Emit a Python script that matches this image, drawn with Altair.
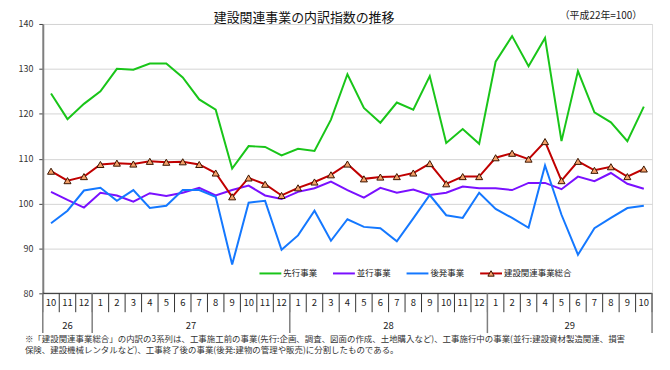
import altair as alt
import pandas as pd

# ---- data ----
months = [10, 11, 12, 1, 2, 3, 4, 5, 6, 7, 8, 9, 10, 11, 12,
          1, 2, 3, 4, 5, 6, 7, 8, 9, 10, 11, 12, 1, 2, 3, 4, 5, 6, 7, 8, 9, 10]
years = ["26", "27", "28", "29"]
year_counts = [3, 12, 12, 10]

series_names = ["先行事業", "並行事業", "後発事業", "建設関連事業総合"]

senko = [124.5, 118.8, 122.2, 125.0, 130.0, 129.8, 131.2, 131.2, 128.1, 123.2, 120.9, 107.8,
         112.8, 112.6, 110.7, 112.2, 111.7, 118.7, 128.8, 121.3, 118.0, 122.5, 120.9, 128.4,
         113.5, 116.6, 113.3, 131.6, 137.3, 130.6, 136.9, 113.9, 129.5, 120.3, 118.1, 113.9, 121.6]
heiko = [102.6, 100.8, 99.1, 102.4, 101.8, 100.4, 102.3, 101.7, 102.4, 103.5, 101.8, 103.0,
         104.0, 101.8, 101.0, 102.6, 103.4, 104.9, 103.0, 101.3, 103.5, 102.4, 103.1, 101.9,
         102.4, 103.8, 103.4, 103.4, 103.0, 104.6, 104.6, 103.2, 106.0, 105.0, 106.8, 104.4, 103.3]
kohatsu = [95.6, 98.4, 102.9, 103.5, 100.6, 103.0, 99.0, 99.5, 103.0, 103.0, 101.5, 86.4,
           100.2, 100.6, 89.7, 92.9, 98.4, 91.7, 96.5, 94.8, 94.5, 91.6, 96.7, 101.9,
           97.4, 96.8, 102.4, 98.8, 96.8, 94.6, 108.5, 97.5, 88.6, 94.5, 96.8, 99.0, 99.5]
sogo = [107.2, 105.1, 106.0, 108.7, 109.0, 108.8, 109.4, 109.2, 109.3, 108.7, 106.8, 101.5,
        105.7, 104.3, 101.8, 103.5, 104.8, 106.4, 108.8, 105.5, 105.9, 106.0, 106.8, 108.9,
        104.4, 106.0, 106.0, 110.2, 111.2, 109.9, 113.8, 105.1, 109.4, 107.4, 108.2, 106.0, 107.7]

title_text = "建設関連事業の内訳指数の推移"
unit_text = "（平成22年=100）"
note_lines = [
    "※「建設関連事業総合」の内訳の3系列は、工事施工前の事業(先行:企画、調査、図面の作成、土地購入など)、工事施行中の事業(並行:建設資材製造関連、損害",
    "保険、建設機械レンタルなど)、工事終了後の事業(後発:建物の管理や販売)に分割したものである。",
]

# ---- styling ----
FONT = "Noto Sans CJK JP"
colors = ["#19c519", "#7a10ff", "#1478ff", "#c00000"]
W, H = 613, 271
N = len(months)

# ---- tables ----
rows = []
for name, vals in zip(series_names, [senko, heiko, kohatsu, sogo]):
    for i, v in enumerate(vals):
        rows.append({"i": i, "series": name, "value": v})
df = pd.DataFrame(rows)

df_m = pd.DataFrame({"i": list(range(N)), "m": [str(m) for m in months]})
df_b = pd.DataFrame({"b": [k - 0.5 for k in range(N + 1)]})
ybounds = [-0.5]
ycent = []
s = 0
for c in year_counts:
    ycent.append(s + (c - 1) / 2)
    s += c
    ybounds.append(s - 0.5)
df_yb = pd.DataFrame({"b": ybounds})
df_yl = pd.DataFrame({"i": ycent, "y": years})
df_base = pd.DataFrame({"x0": [-0.5], "x1": [N - 0.5], "v": [80]})


def px2x(px):
    return px * N / W - 0.5


leg = []
cur = 218
for k, name in enumerate(series_names):
    leg.append({"series": name, "x0": px2x(cur), "x1": px2x(cur + 22),
                "xm": px2x(cur + 11), "xt": px2x(cur + 24)})
    cur += 22 + 3 + 8.5 * len(name) + 15
df_leg = pd.DataFrame(leg)

df_title = pd.DataFrame({"t": [title_text]})
df_unit = pd.DataFrame({"t": [unit_text]})
df_note = pd.DataFrame({"t": ["\n".join(note_lines)]})

xscale = alt.Scale(domain=[-0.5, N - 0.5], nice=False, zero=False)
yscale = alt.Scale(domain=[80, 140], nice=False, zero=False)
cscale = alt.Scale(domain=series_names, range=colors)

base = alt.Chart(df)

lines = base.mark_line(strokeWidth=2).encode(
    x=alt.X("i:Q", scale=xscale, axis=None),
    y=alt.Y("value:Q", scale=yscale, axis=alt.Axis(
        values=list(range(80, 141, 10)), grid=True, gridColor="#d4d4d4", gridWidth=1,
        domainColor="#7f7f7f", domainWidth=2, tickColor="#404040", tickSize=4,
        labelFontSize=9, labelColor="#333333", labelFont=FONT, labelPadding=6, title=None)),
    color=alt.Color("series:N", scale=cscale, legend=None),
)

points = base.transform_filter(alt.datum.series == series_names[3]).mark_point(
    shape="triangle-up", filled=True, size=50, fill="#f4a06a", stroke="#3a1500",
    strokeWidth=1, opacity=1).encode(
    x=alt.X("i:Q", scale=xscale, axis=None),
    y=alt.Y("value:Q", scale=yscale),
)

baseline = alt.Chart(df_base).mark_rule(color="#222222", strokeWidth=1).encode(
    x=alt.X("x0:Q", scale=xscale, axis=None), x2="x1:Q",
    y=alt.Y("v:Q", scale=yscale))

msep = alt.Chart(df_b).mark_rule(color="#333333", strokeWidth=1).encode(
    x=alt.X("b:Q", scale=xscale, axis=None), y=alt.value(H), y2=alt.value(H + 19))
ysep = alt.Chart(df_yb).mark_rule(color="#7f7f7f", strokeWidth=1.5).encode(
    x=alt.X("b:Q", scale=xscale, axis=None), y=alt.value(H), y2=alt.value(H + 40))

mlab = alt.Chart(df_m).mark_text(fontSize=9.5, font=FONT, baseline="middle", color="#222222").encode(
    x=alt.X("i:Q", scale=xscale, axis=None), y=alt.value(H + 10), text="m:N")
ylab = alt.Chart(df_yl).mark_text(fontSize=9.5, font=FONT, baseline="middle", color="#222222").encode(
    x=alt.X("i:Q", scale=xscale, axis=None), y=alt.value(H + 33), text="y:N")

leg_line = alt.Chart(df_leg).mark_rule(strokeWidth=2).encode(
    x=alt.X("x0:Q", scale=xscale, axis=None), x2="x1:Q", y=alt.value(251),
    color=alt.Color("series:N", scale=cscale, legend=None))
leg_pt = alt.Chart(df_leg).transform_filter(alt.datum.series == series_names[3]).mark_point(
    shape="triangle-up", filled=True, size=40, fill="#f4a06a", stroke="#3a1500",
    strokeWidth=1, opacity=1).encode(
    x=alt.X("xm:Q", scale=xscale, axis=None), y=alt.value(251))
leg_txt = alt.Chart(df_leg).mark_text(align="left", baseline="middle", fontSize=8.5, font=FONT,
                                      color="#222222").encode(
    x=alt.X("xt:Q", scale=xscale, axis=None), y=alt.value(251), text="series:N")


def label(d, x, y, size, color):
    return alt.Chart(d).mark_text(align="left", baseline="middle", fontSize=size, font=FONT,
                                  color=color).encode(x=alt.value(x), y=alt.value(y), text="t:N")


title = label(df_title, 172, -6, 13, "#111111")
unit = label(df_unit, 520, -8, 10, "#222222")
note = alt.Chart(df_note).mark_text(align="left", baseline="top", fontSize=8.5, font=FONT,
                                    color="#333333", lineBreak="\n", lineHeight=11).encode(
    x=alt.value(-18), y=alt.value(H + 42), text="t:N")

chart = alt.layer(
    lines, points, baseline, msep, ysep, mlab, ylab, leg_line, leg_pt, leg_txt,
    title, unit, note
).properties(
    width=W, height=H,
    autosize=alt.AutoSizeParams(type="none"),
    padding={"left": 35, "top": 15, "right": 10, "bottom": 64},
).configure_view(stroke=None).configure(background="white")

chart.save("out.html", embed_options={"renderer": "svg", "actions": False})
